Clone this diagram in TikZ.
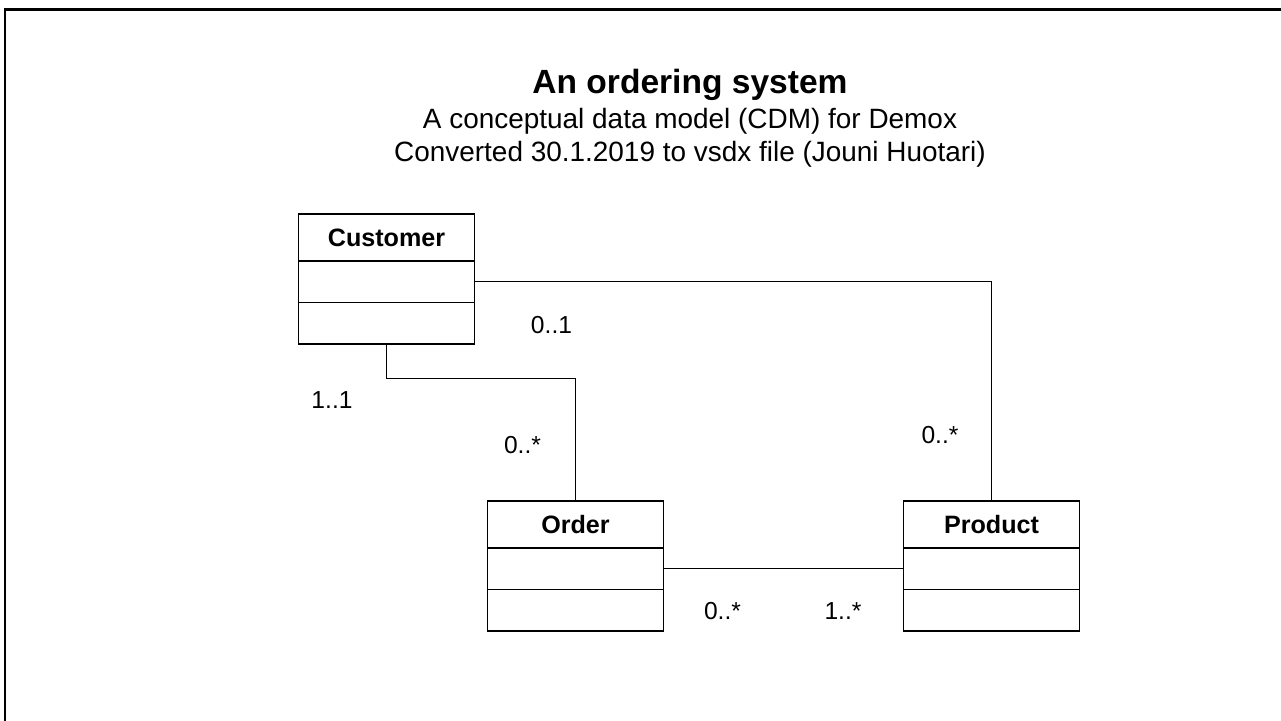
\documentclass[tikz,border=0pt]{standalone}
\usepackage{fontspec}
\setmainfont{Liberation Sans}
\usetikzlibrary{positioning}

\begin{document}
\begin{tikzpicture}[x=0.02cm, y=-0.02cm,
	head/.style={draw, line width=0.75pt, outer sep=0pt, minimum width=3.52cm,
		minimum height=0.94cm, font=\fontsize{14.3}{17}\selectfont\bfseries},
	slot/.style={draw, line width=0.75pt, outer sep=0pt, minimum width=3.52cm,
		minimum height=0.83cm},
	link/.style={draw, line width=0.6pt},
	mult/.style={font=\fontsize{14}{17}\selectfont, inner sep=0pt}]
\clip (0,0) rectangle (1281,720);
\draw[line width=1.6pt] (5,9.5) rectangle (1295,735);

\node[font=\fontsize{19.1}{23}\selectfont\bfseries, anchor=base] (title) at (690,93) {An ordering system};
\node[font=\fontsize{15.9}{19}\selectfont, anchor=base] (sub1) at (690,128) {A conceptual data model (CDM) for Demox};
\node[font=\fontsize{15.9}{19}\selectfont, anchor=base] (sub2) at (690,161) {Converted 30.1.2019 to vsdx file (Jouni Huotari)};

\node[head] (customer) at (386.5,237.5) {Customer};
\node[slot, below=0pt of customer] (customer-a) {};
\node[slot, below=0pt of customer-a] (customer-b) {};

\node[head] (order) at (575.5,524.5) {Order};
\node[slot, below=0pt of order] (order-a) {};
\node[slot, below=0pt of order-a] (order-b) {};

\node[head] (product) at (991.5,524.5) {Product};
\node[slot, below=0pt of product] (product-a) {};
\node[slot, below=0pt of product-a] (product-b) {};

\draw[link] (customer-a.east) -| (product.north);
\draw[link] (customer-b.south) -- ++(0,34.5) -| (order.north);
\draw[link] (order-a.east) -- (product-a.west);

\node[mult] (m1) at (551.5,325) {0..1};
\node[mult] (m2) at (332,400) {1..1};
\node[mult] (m3) at (522.5,445.5) {0..*};
\node[mult] (m4) at (940,435) {0..*};
\node[mult] (m5) at (722.5,611.5) {0..*};
\node[mult] (m6) at (843,611.5) {1..*};
\end{tikzpicture}
\end{document}
